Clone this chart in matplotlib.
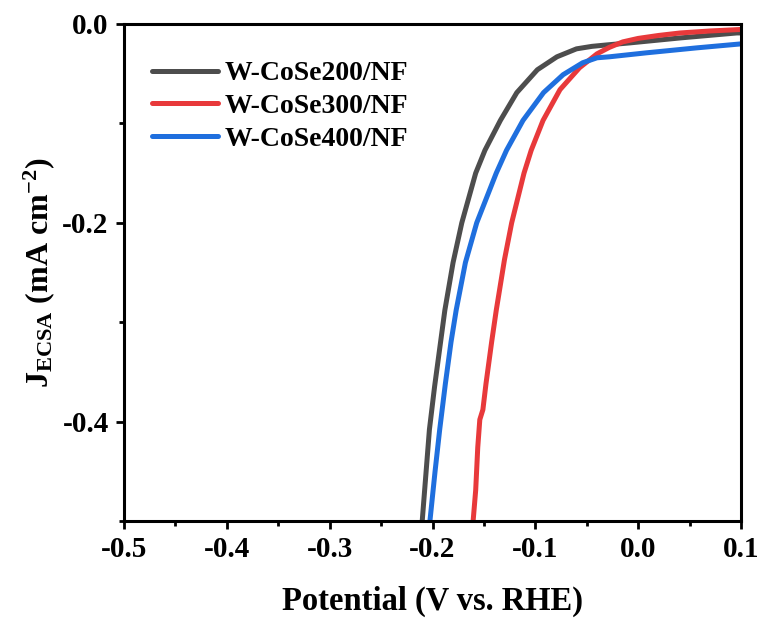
import matplotlib
matplotlib.use("Agg")
import matplotlib.pyplot as plt
from matplotlib.ticker import MultipleLocator, FuncFormatter

plt.rcParams['font.family'] = ['Liberation Serif', 'DejaVu Serif']
plt.rcParams['font.weight'] = 'bold'
plt.rcParams['mathtext.fontset'] = 'custom'
plt.rcParams['mathtext.rm'] = 'Liberation Serif:bold'
plt.rcParams['mathtext.bf'] = 'Liberation Serif:bold'
plt.rcParams['mathtext.it'] = 'Liberation Serif:bold'

labels = ["W-CoSe200/NF", "W-CoSe300/NF", "W-CoSe400/NF"]
colors = ["#4d4d4d", "#e8393b", "#1f6fde"]

x200 = [-0.210, -0.203, -0.198, -0.188, -0.180, -0.1715, -0.158, -0.149, -0.144, -0.134,
        -0.118, -0.098, -0.079, -0.060, -0.045, -0.030, -0.008, 0.041, 0.096, 0.100]
y200 = [-0.500, -0.408, -0.365, -0.288, -0.240, -0.200, -0.150, -0.127, -0.117, -0.097,
        -0.069, -0.046, -0.033, -0.025, -0.0225, -0.021, -0.019, -0.014, -0.009, -0.009]

x300 = [-0.1605, -0.158, -0.156, -0.154, -0.151, -0.148, -0.1425, -0.138, -0.130, -0.123,
        -0.111, -0.104, -0.0925, -0.076, -0.057, -0.040, -0.028, -0.015, 0.000, 0.020,
        0.041, 0.070, 0.100]
y300 = [-0.500, -0.469, -0.426, -0.398, -0.388, -0.362, -0.320, -0.288, -0.237, -0.200,
        -0.150, -0.127, -0.097, -0.066, -0.044, -0.030, -0.0235, -0.018, -0.0145, -0.0115,
        -0.009, -0.007, -0.0055]

x400 = [-0.2025, -0.1975, -0.193, -0.1875, -0.182, -0.177, -0.168, -0.157, -0.138, -0.128,
        -0.112, -0.092, -0.073, -0.054, -0.040, -0.028, 0.008, 0.057, 0.100]
y400 = [-0.500, -0.450, -0.408, -0.362, -0.320, -0.288, -0.240, -0.200, -0.150, -0.127,
        -0.097, -0.069, -0.051, -0.039, -0.034, -0.033, -0.029, -0.024, -0.020]

xs = [x200, x300, x400]
ys = [y200, y300, y400]

fig = plt.figure(figsize=(7.61, 6.23), dpi=100)
ax = fig.add_axes([124/761, 1-521/623, (741-124)/761, (521-24)/623])

for x, y, c, l in zip(xs, ys, colors, labels):
    ax.plot(x, y, color=c, lw=3.6, label=l, solid_capstyle='round', solid_joinstyle='round')

ax.set_xlim(-0.5, 0.1)
ax.set_ylim(-0.5, 0.0)
ax.xaxis.set_major_locator(MultipleLocator(0.1))
ax.xaxis.set_minor_locator(MultipleLocator(0.05))
ax.yaxis.set_major_locator(MultipleLocator(0.2))
ax.yaxis.set_minor_locator(MultipleLocator(0.1))
ax.tick_params(which='major', direction='out', length=6, width=2, labelsize=21, pad=5)
ax.tick_params(which='minor', direction='out', length=3.5, width=2)
for s in ax.spines.values():
    s.set_linewidth(2.2)
fmt = FuncFormatter(lambda v, p: "0.0" if abs(v) < 1e-9 else f"{v:.1f}")
ax.xaxis.set_major_formatter(fmt)
ax.yaxis.set_major_formatter(fmt)
for t in ax.get_xticklabels() + ax.get_yticklabels():
    t.set_fontweight('bold')

ax.set_xlabel("Potential (V vs. RHE)", fontsize=23.5, fontweight='bold', labelpad=16)
ax.set_ylabel(r"$\mathrm{J_{ECSA}}$ (mA cm$^{\mathrm{-2}}$)", fontsize=23, fontweight='bold', labelpad=4)

leg = ax.legend(loc='upper left', frameon=False, handlelength=2.37,
                handletextpad=0.25, labelspacing=0.26, borderpad=0, borderaxespad=0,
                bbox_to_anchor=(0.045, 0.926),
                prop={'weight': 'bold', 'size': 20})

fig.savefig("out.png", dpi=100)
